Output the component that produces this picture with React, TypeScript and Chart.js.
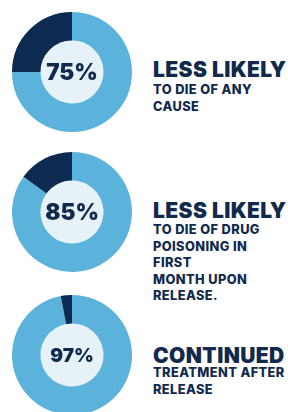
import React, { useEffect, useRef } from "react";
import { Chart, registerables } from "chart.js";

Chart.register(...registerables);

const percentages = [75, 85, 97];
const headings = ["LESS LIKELY", "LESS LIKELY", "CONTINUED"];
const details = [
  ["TO DIE OF ANY", "CAUSE"],
  ["TO DIE OF DRUG", "POISONING IN", "FIRST", "MONTH UPON", "RELEASE."],
  ["TREATMENT AFTER", "RELEASE"],
];

const LIGHT = "#5bb3dc";
const DARK = "#0d2a50";
const INNER = "#e6f2f8";
const TEXT = "#11294b";
const FONT = "Inter, 'Open Sans', sans-serif";

const donutTops = [12, 152, 295];
const centerFont = [22.5, 22.5, 19];
const blockTops = [58.9, 199.6, 344.9];
const smallGap = [2.1, 1.4, -0.9];

const innerPlugin = {
  id: "innerFill",
  beforeDatasetsDraw(chart: any) {
    const arc = chart.getDatasetMeta(0).data[0];
    if (!arc) return;
    const ctx = chart.ctx;
    ctx.save();
    ctx.beginPath();
    ctx.arc(arc.x, arc.y, arc.innerRadius, 0, Math.PI * 2);
    ctx.fillStyle = INNER;
    ctx.fill();
    ctx.restore();
  },
  afterDatasetsDraw(chart: any) {
    const arc = chart.getDatasetMeta(0).data[0];
    if (!arc) return;
    const opts = chart.options.plugins.innerFill || {};
    const ctx = chart.ctx;
    ctx.save();
    ctx.fillStyle = TEXT;
    ctx.font = `900 ${opts.size}px ${FONT}`;
    ctx.textAlign = "center";
    ctx.textBaseline = "middle";
    ctx.fillText(opts.text, arc.x, arc.y + 1);
    ctx.restore();
  },
};

function Donut({ value, idx }: { value: number; idx: number }) {
  const ref = useRef<HTMLCanvasElement>(null);
  useEffect(() => {
    const chart = new Chart(ref.current!, {
      type: "doughnut",
      data: {
        labels: ["Yes", "No"],
        datasets: [
          {
            data: [value, 100 - value],
            backgroundColor: [LIGHT, DARK],
            borderWidth: 0,
          },
        ],
      },
      options: {
        animation: false,
        responsive: false,
        cutout: "52.5%",
        layout: { padding: 0 },
        plugins: {
          legend: { display: false },
          tooltip: { enabled: false },
          innerFill: { text: `${value}%`, size: centerFont[idx] },
        } as any,
        events: [],
      },
      plugins: [innerPlugin],
    });
    return () => chart.destroy();
  }, [value, idx]);
  return (
    <canvas
      ref={ref}
      width={120}
      height={120}
      style={{ position: "absolute", left: 12, top: donutTops[idx], width: 120, height: 120 }}
    />
  );
}

export default function App() {
  return (
    <div
      style={{
        position: "absolute",
        left: 0,
        top: 0,
        width: 288,
        height: 412,
        overflow: "hidden",
        background: "#ffffff",
        fontFamily: FONT,
        color: TEXT,
      }}
    >
      {percentages.map((v, i) => (
        <Donut key={i} value={v} idx={i} />
      ))}
      {headings.map((h, i) => (
        <div
          key={i}
          style={{ position: "absolute", left: 153, top: blockTops[i], whiteSpace: "nowrap" }}
        >
          <div style={{ fontSize: 21, lineHeight: "21px", fontWeight: 900, letterSpacing: 0.4 }}>{h}</div>
          <div
            style={{
              marginTop: smallGap[i],
              fontSize: 12.8,
              lineHeight: "16.6px",
              fontWeight: 800,
              letterSpacing: 0.4,
            }}
          >
            {details[i].map((l, j) => (
              <div key={j}>{l}</div>
            ))}
          </div>
        </div>
      ))}
    </div>
  );
}
